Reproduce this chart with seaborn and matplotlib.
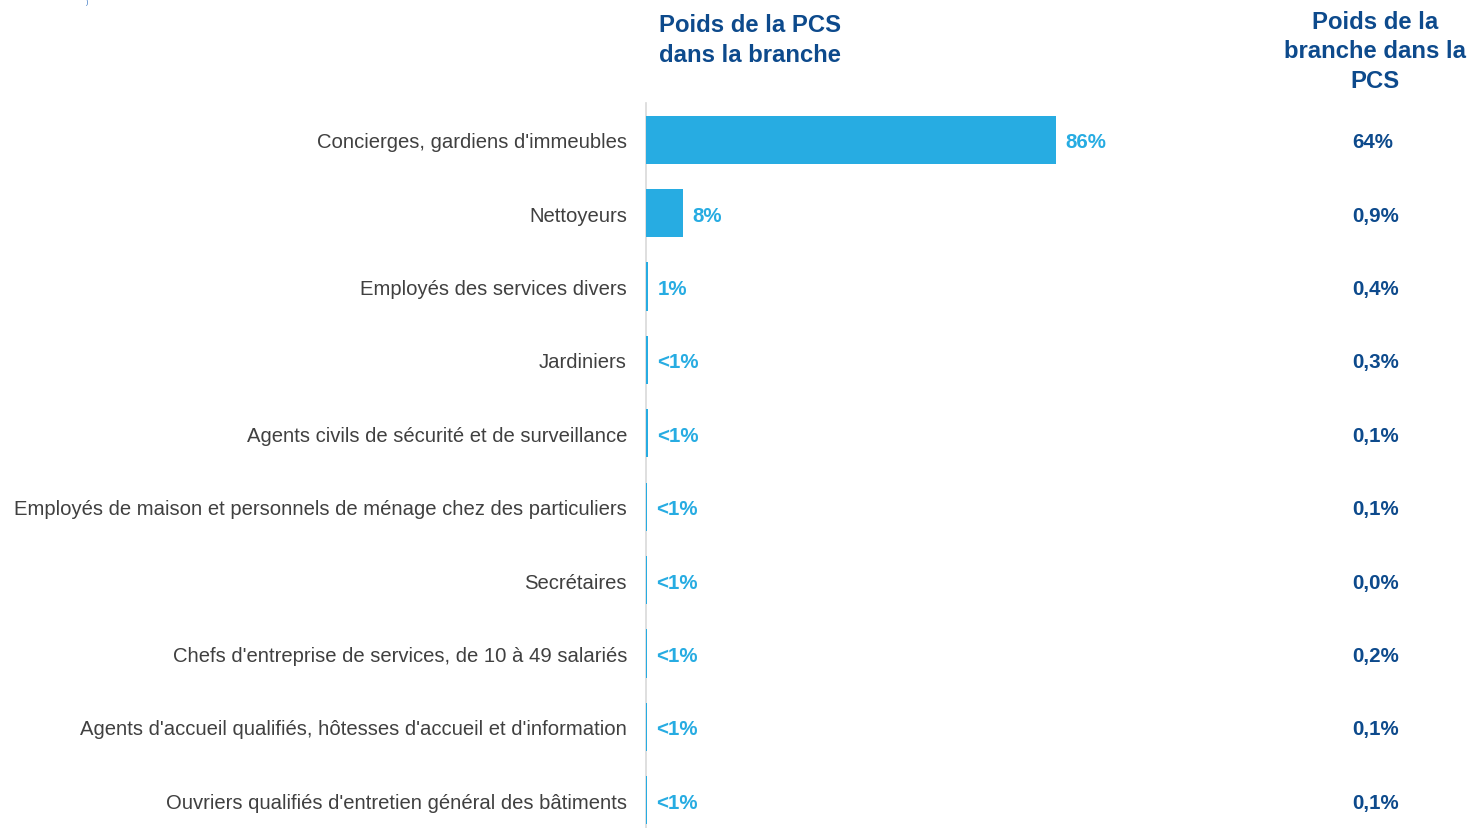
import matplotlib
matplotlib.use("Agg")
import matplotlib.pyplot as plt
import matplotlib.transforms as mtransforms
import seaborn as sns
import pandas as pd

categories = [
    "Concierges, gardiens d'immeubles",
    "Nettoyeurs",
    "Employés des services divers",
    "Jardiniers",
    "Agents civils de sécurité et de surveillance",
    "Employés de maison et personnels de ménage chez des particuliers",
    "Secrétaires",
    "Chefs d'entreprise de services, de 10 à 49 salariés",
    "Agents d'accueil qualifiés, hôtesses d'accueil et d'information",
    "Ouvriers qualifiés d'entretien général des bâtiments",
]
poids_pcs = [86, 7.8, 0.5, 0.4, 0.35, 0.3, 0.3, 0.3, 0.25, 0.15]
poids_labels = ["86%", "8%", "1%", "<1%", "<1%", "<1%", "<1%", "<1%", "<1%", "<1%"]
poids_branche = ["64%", "0,9%", "0,4%", "0,3%", "0,1%", "0,1%", "0,0%", "0,2%", "0,1%", "0,1%"]
header_left = "Poids de la PCS\ndans la branche"
header_right = "Poids de la\nbranche dans la\nPCS"

BAR = "#27ACE2"
DARK = "#0D4A8C"
GRAY = "#404040"

sns.set_theme(style="white")
plt.rcParams["font.family"] = ["Liberation Sans", "DejaVu Sans"]

df = pd.DataFrame({"cat": categories, "val": poids_pcs})

W, H = 1473, 829
fig = plt.figure(figsize=(W / 100, H / 100), dpi=100)
ax_left_px = 646
ax_right_px = 1473
top_px = 104
bottom_px = 838
ax = fig.add_axes([ax_left_px / W, (H - bottom_px) / H,
                   (ax_right_px - ax_left_px) / W, (bottom_px - top_px) / H])
ppu = 410 / 86.0
sns.barplot(data=df, x="val", y="cat", orient="h", color=BAR, width=0.655,
            saturation=1, linewidth=0, ax=ax)
ax.set_xlim(0, (ax_right_px - ax_left_px) / ppu)
ax.set_ylim(len(categories) - 0.5, -0.5)
ax.set_xlabel("")
ax.set_ylabel("")
ax.set_xticks([])
for s in ["top", "right", "bottom"]:
    ax.spines[s].set_visible(False)
ax.spines["left"].set_color("#D9D9D9")
ax.spines["left"].set_linewidth(1.2)
ax.spines["left"].set_zorder(0)
ax.tick_params(axis="y", length=0, pad=13.7, labelsize=14.6, labelcolor=GRAY)

for i, (v, lab) in enumerate(zip(poids_pcs, poids_labels)):
    ax.text(v + 9 / ppu, i, lab, ha="left", va="center_baseline", color=BAR,
            fontsize=14.8, fontweight="bold")

blend = mtransforms.blended_transform_factory(fig.transFigure, ax.transData)
for i, lab in enumerate(poids_branche):
    ax.text(1352 / W, i, lab, ha="left", va="center_baseline", color=DARK,
            fontsize=14.8, fontweight="bold", transform=blend)

fig.text(659 / W, 1 - 40.5 / H, header_left, ha="left", va="center", color=DARK,
         fontsize=17.2, fontweight="bold", linespacing=1.34)
fig.text(1375 / W, 1 - 52 / H, header_right, ha="center", va="center", color=DARK,
         fontsize=17.2, fontweight="bold", linespacing=1.34)
fig.text(87 / W, 1 - 3 / H, ")", ha="center", va="center", color="#2F6FC0", fontsize=5)

fig.savefig("out.png", dpi=100)
